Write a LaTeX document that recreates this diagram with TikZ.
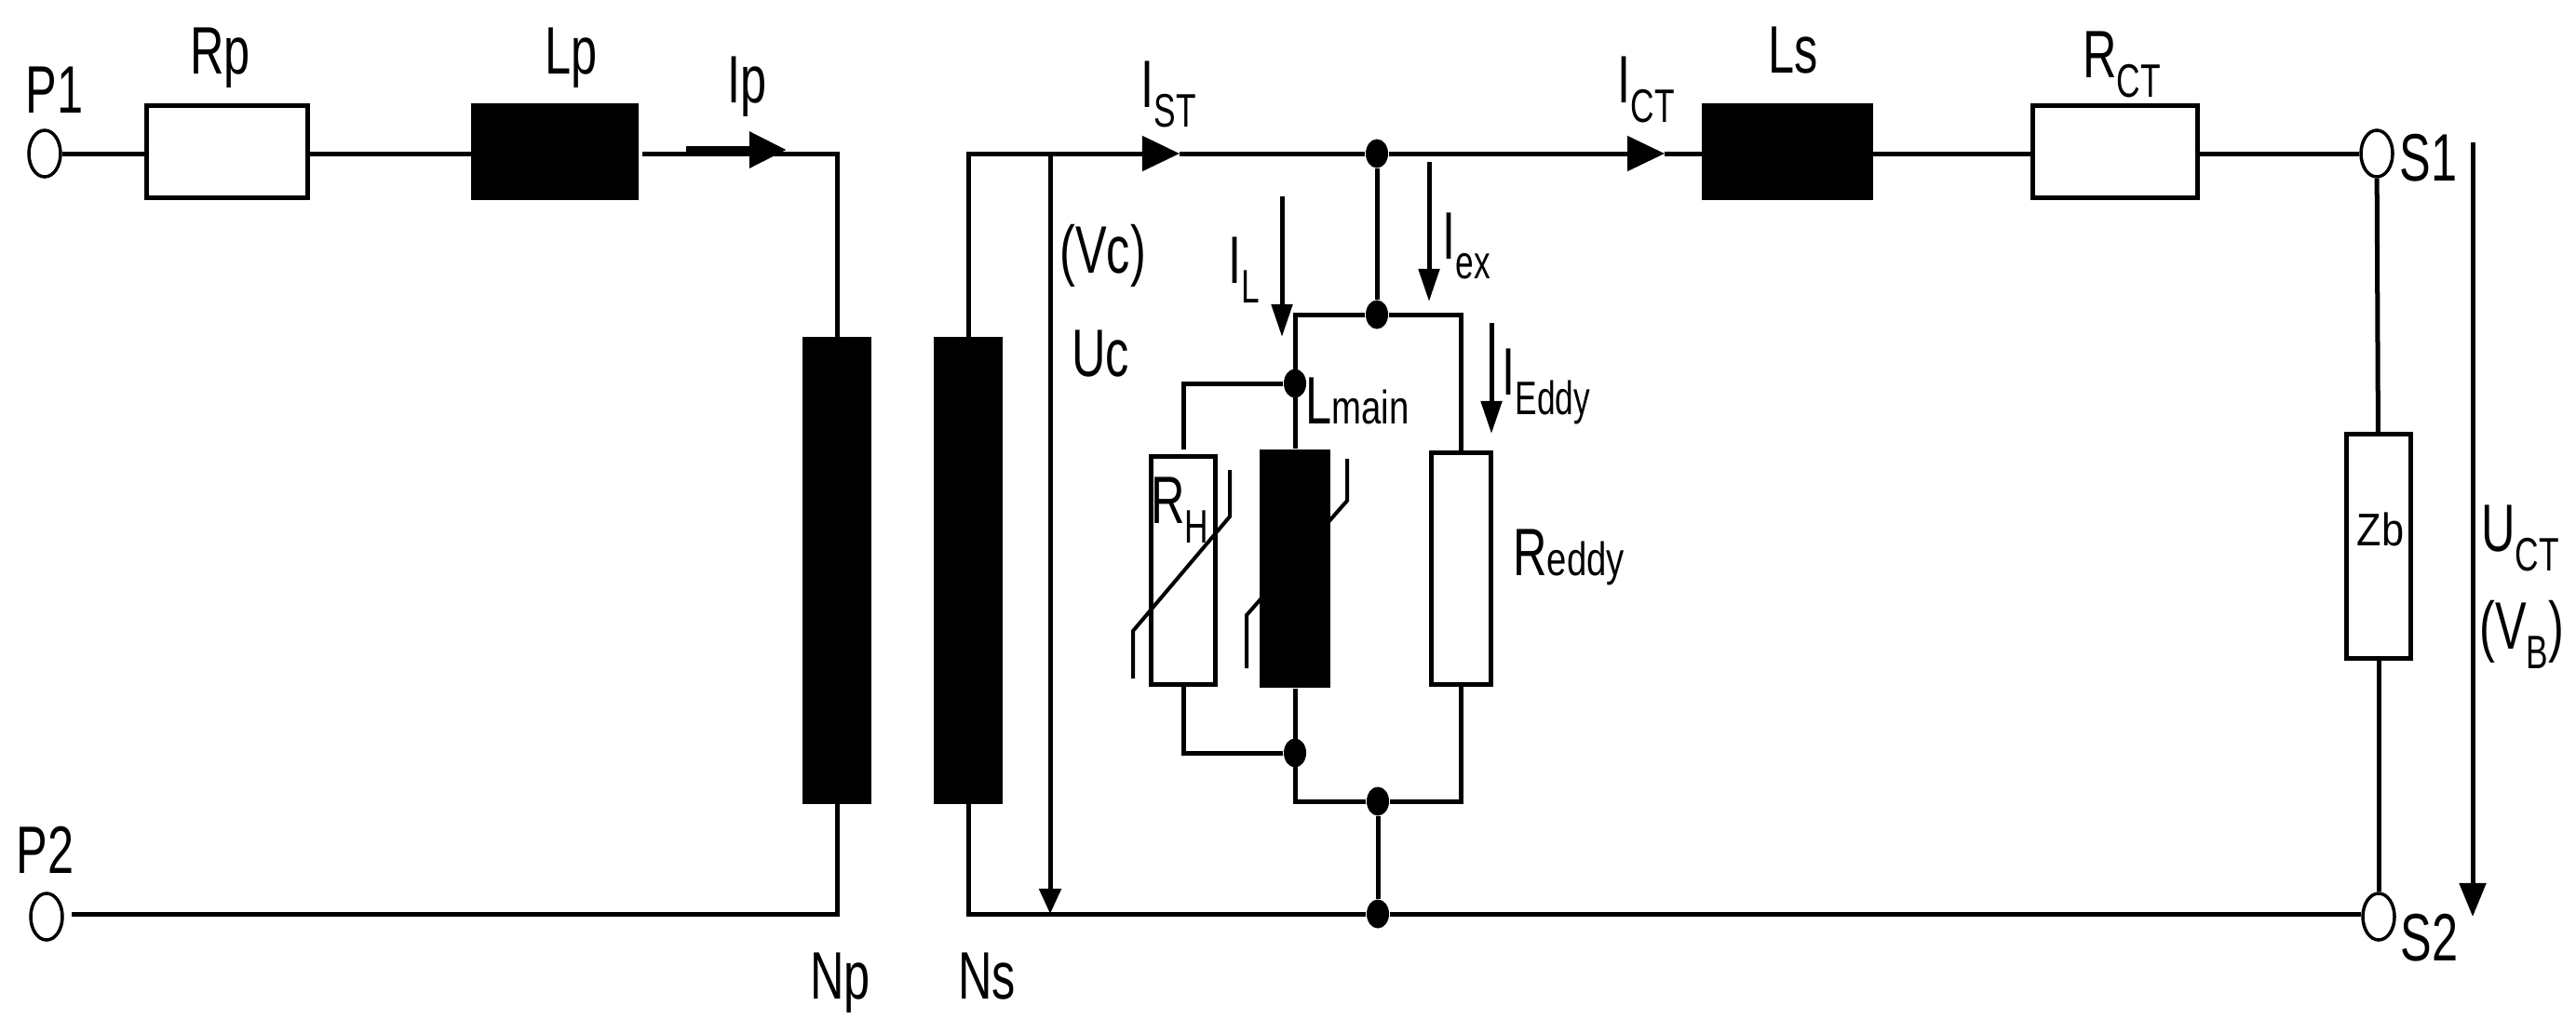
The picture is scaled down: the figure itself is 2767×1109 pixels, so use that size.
\documentclass[tikz,border=0pt]{standalone}
\usepackage{fontspec}
\setmainfont{Liberation Sans}
\usetikzlibrary{arrows.meta,shapes.geometric}
\newcommand{\lowidx}[1]{\raisebox{-.3em}{\scalebox{.7}{#1}}}
\newcommand{\flatidx}[1]{\scalebox{.76}[.7]{#1}}

\begin{document}
\begin{tikzpicture}[x=.01cm,y=-.01cm,
  wire/.style={draw,line width=.05cm},
  fine/.style={draw,line width=.04cm},
  flow/.style={-{Triangle[length=.4cm,width=.37cm]}},
  sense/.style={-{Triangle[length=.35cm,width=.22cm]}},
  resbox/.style={rectangle,draw,line width=.05cm,fill=white,inner sep=0},
  coil/.style={rectangle,fill=black,inner sep=0},
  term/.style={ellipse,draw,line width=.035cm,fill=white,minimum width=.34cm,minimum height=.5cm,inner sep=0},
  dot/.style={ellipse,fill=black,minimum width=.24cm,minimum height=.31cm,inner sep=0},
  lbl/.style={font=\fontsize{20.5}{24}\selectfont,inner sep=0,anchor=base west,xscale=.7},
  small lbl/.style={font=\fontsize{14}{16}\selectfont,inner sep=0,xscale=.88}]
\useasboundingbox (0,0) rectangle (2767,1109);
\node[term] (p1) at (48,165) {};
\node[term] (p2) at (50,985) {};
\node[term] (s1) at (2553,165) {};
\node[term] (s2) at (2555,985) {};
\node[resbox,minimum width=1.72cm,minimum height=.99cm] (rp) at (244,163) {};
\node[coil,minimum width=1.79cm,minimum height=1.04cm] (lp) at (596,163) {};
\node[coil,minimum width=.74cm,minimum height=5.01cm] (np) at (899,613) {};
\node[coil,minimum width=.74cm,minimum height=5.01cm] (ns) at (1040,613) {};
\node[coil,minimum width=1.83cm,minimum height=1.04cm] (ls) at (1920,163) {};
\node[resbox,minimum width=1.76cm,minimum height=.99cm] (rct) at (2272,163) {};
\node[resbox,minimum width=.69cm,minimum height=2.41cm] (zb) at (2555,587) {};
\node[resbox,minimum width=.69cm,minimum height=2.44cm] (rh) at (1271,613) {};
\node[coil,minimum width=.75cm,minimum height=2.56cm] (lmain) at (1391,611) {};
\node[resbox,minimum width=.64cm,minimum height=2.49cm] (reddy) at (1569,611) {};
\node[dot] (topdot) at (1479,165) {};
\node[dot] (railtop) at (1479,338) {};
\node[dot] (hdot) at (1391,412) {};
\node[dot] (ldot) at (1391,809) {};
\node[dot] (railbot) at (1480,861) {};
\node[dot] (botdot) at (1480,982) {};
\coordinate (ipa) at (737,161);
\coordinate (ipt) at (845,161);
\coordinate (istt) at (1267,165);
\coordinate (ictt) at (1788,165);
\coordinate (uca) at (1128,165);
\coordinate (ucb) at (1128,982);
\coordinate (ila) at (1377,211);
\coordinate (ilb) at (1377,362);
\coordinate (iexa) at (1535,174);
\coordinate (iexb) at (1535,324);
\coordinate (iedda) at (1602,347);
\coordinate (ieddb) at (1602,466);
\coordinate (ucta) at (2656,153);
\coordinate (uctb) at (2656,985);
\draw[wire] (p1) -- (rp.west |- p1);
\draw[wire] (rp.east |- p1) -- (lp.west |- p1);
\draw[wire,shorten <=.04cm] (lp.east |- p1) -| (np.north);
\draw[wire,flow,line width=.09cm] (ipa) -- (ipt);
\draw[wire,shorten >=.08cm] (np.south) |- (p2.east |- botdot);
\draw[wire,flow] (ns.north) |- (istt);
\draw[wire] (istt) -- (topdot);
\draw[wire,flow] (topdot) -- (ictt);
\draw[wire] (ictt) -- (ls.west |- ictt);
\draw[wire] (ls.east |- ictt) -- (rct.west |- ictt);
\draw[wire] (rct.east |- ictt) -- (s1);
\draw[wire] (s1) -- (zb);
\draw[wire] (zb) -- (s2);
\draw[wire] (ns.south) |- (botdot);
\draw[wire] (botdot) -- (s2.west |- botdot);
\draw[wire] (topdot) -- (railtop);
\draw[wire] (lmain.north) |- (railtop);
\draw[wire] (railtop) -| (reddy.north);
\draw[wire,shorten >=.05cm] (hdot) -| (rh.north);
\draw[wire] (rh.south) |- (ldot);
\draw[wire] (lmain.south) |- (railbot);
\draw[wire] (reddy.south) |- (railbot);
\draw[wire] (railbot) -- (botdot);
\draw[wire,-{Triangle[length=.27cm,width=.23cm]}] (uca) -- (ucb);
\draw[wire,sense] (ila) -- (ilb);
\draw[wire,sense] (iexa) -- (iexb);
\draw[wire,sense] (iedda) -- (ieddb);
\draw[wire,-{Triangle[length=.36cm,width=.28cm]}] (ucta) -- (uctb);
\draw[fine] (1217,729) -- (1217,678) -- (1321,555) -- (1321,505);
\draw[fine] (1339,718) -- (1339,661) -- (1447,538) -- (1447,493);
\node[lbl] (lblpa) at (27,121) {P1};
\node[lbl] (lblpb) at (17,938) {P2};
\node[lbl] (lblrp) at (204,79) {Rp};
\node[lbl] (lbllp) at (585,79) {Lp};
\node[lbl] (lblip) at (781,110) {Ip};
\node[lbl] (lblist) at (1225,115) {I\lowidx{ST}};
\node[lbl] (lblict) at (1737,110) {I\lowidx{CT}};
\node[lbl] (lblls) at (1899,78) {Ls};
\node[lbl] (lblrct) at (2237,83) {R\lowidx{CT}};
\node[lbl] (lblsa) at (2577,194) {S1};
\node[lbl] (lblsb) at (2578,1032) {S2};
\node[lbl] (lblvc) at (1138,293) {(Vc)};
\node[lbl] (lbluc) at (1151,404) {Uc};
\node[lbl] (lblil) at (1319,304) {I\lowidx{L}};
\node[lbl] (lbliex) at (1549,278) {I\lowidx{ex}};
\node[lbl] (lblied) at (1613,424) {I\lowidx{Eddy}};
\node[lbl] (lbllm) at (1402,455) {L\flatidx{main}};
\node[lbl] (lblrh) at (1236,562) {R\lowidx{H}};
\node[lbl] (lblred) at (1625,618) {R\flatidx{eddy}};
\node[small lbl] (lblzb) at (2557,569) {Zb};
\node[lbl] (lbluct) at (2665,592) {U\lowidx{CT}};
\node[lbl] (lblvb) at (2663,697) {(V\lowidx{B})};
\node[lbl] (lblnp) at (870,1073) {Np};
\node[lbl] (lblns) at (1029,1073) {Ns};
\end{tikzpicture}
\end{document}
